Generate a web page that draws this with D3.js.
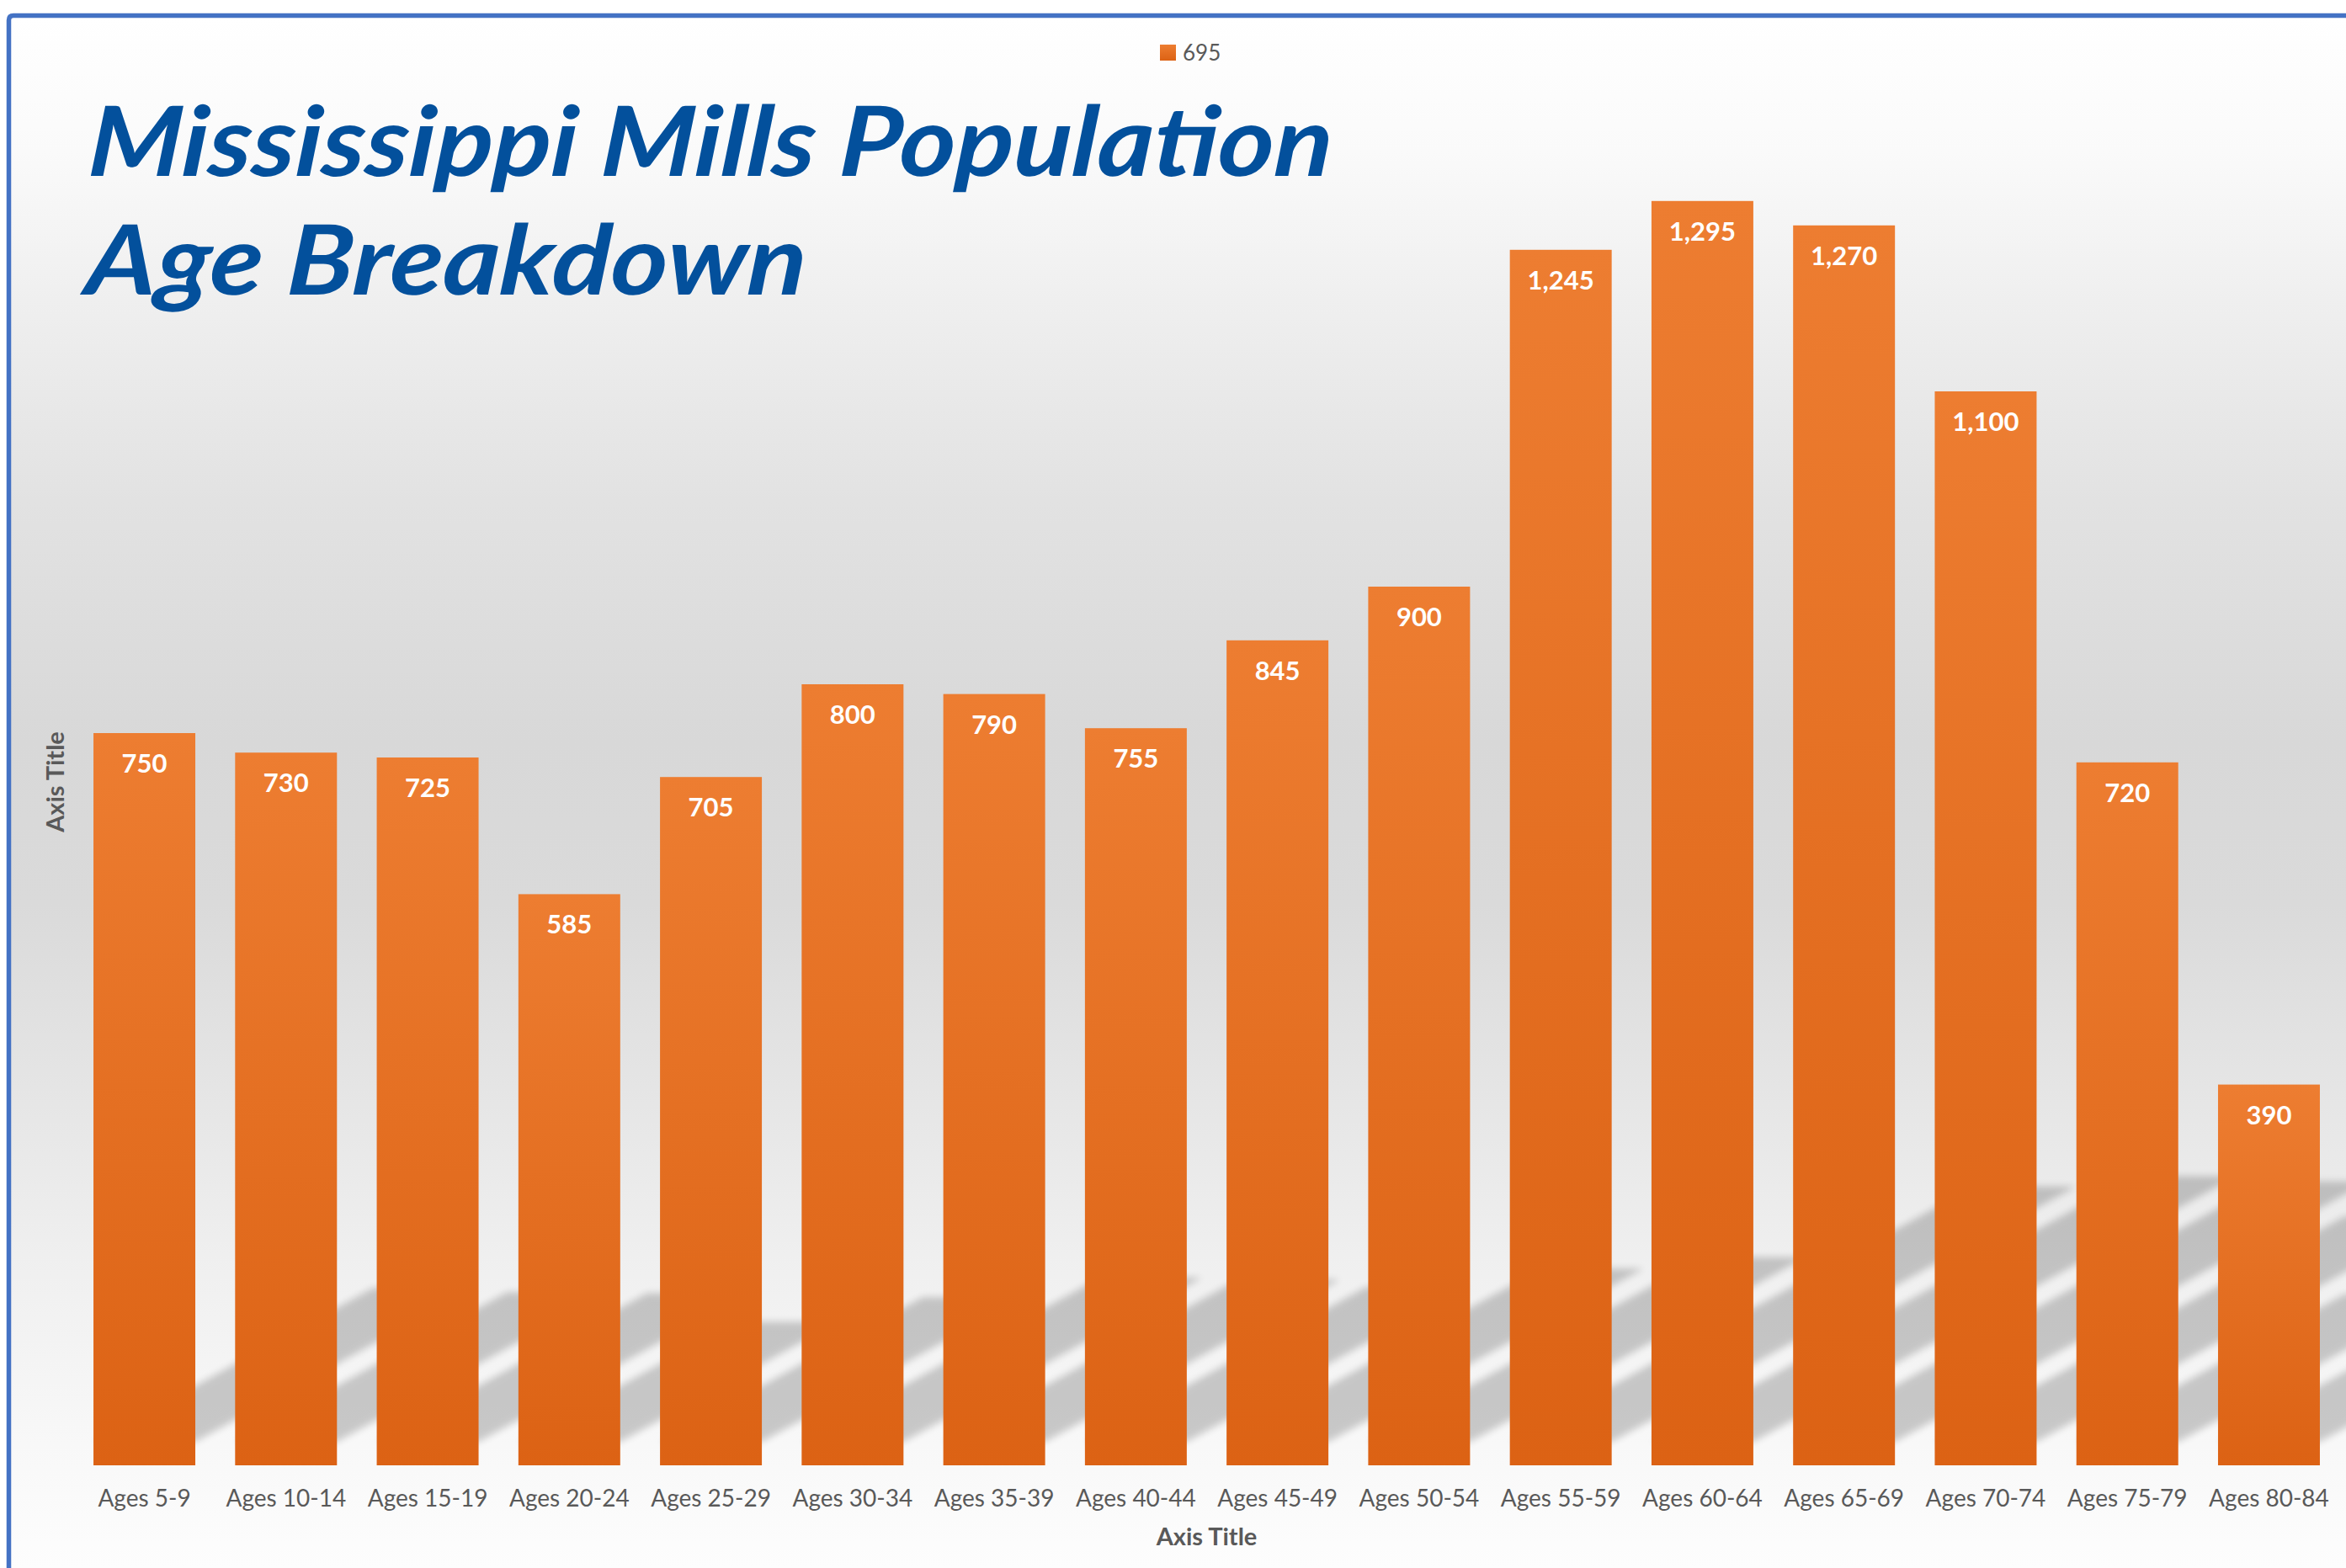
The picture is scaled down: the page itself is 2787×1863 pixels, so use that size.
<!DOCTYPE html>
<html>
<head>
<meta charset="utf-8">
<script src="https://cdn.jsdelivr.net/npm/d3@7"></script>
<style>
  html, body { margin: 0; padding: 0; background: #ffffff; }
  svg { display: block; }
</style>
</head>
<body>
<svg id="chart"></svg>
<script>
// ---- data ----
const categories = [
  "Ages 5-9", "Ages 10-14", "Ages 15-19", "Ages 20-24", "Ages 25-29", "Ages 30-34",
  "Ages 35-39", "Ages 40-44", "Ages 45-49", "Ages 50-54", "Ages 55-59", "Ages 60-64",
  "Ages 65-69", "Ages 70-74", "Ages 75-79", "Ages 80-84"
];
const population = [750, 730, 725, 585, 705, 800, 790, 755, 845, 900, 1245, 1295, 1270, 1100, 720, 390];
const seriesName = "695";
const titleLines = ["Mississippi Mills Population", "Age Breakdown"];
const xAxisTitle = "Axis Title";
const yAxisTitle = "Axis Title";

// ---- layout ----
const W = 2787, H = 1863;
const plot = { left: 87.4, right: 2779.6, top: 117, bottom: 1741 };
const textGrey = "#595959";
const font = "Lato, 'Open Sans', 'DejaVu Sans', sans-serif";

const svg = d3.select("#chart").attr("width", W).attr("height", H);
const defs = svg.append("defs");

// chart-area background: light at the edges, grey through the middle
const bgStops = [
  [19, "#ffffff"], [180, "#fafafa"], [357, "#efefef"], [596, "#e2e2e2"],
  [880, "#d8d8d8"], [1073, "#dadada"], [1311, "#e6e6e6"], [1490, "#efefef"],
  [1716, "#f8f8f8"], [1863, "#fdfdfd"]
];
const bgGrad = defs.append("linearGradient")
  .attr("id", "bgGrad").attr("gradientUnits", "userSpaceOnUse")
  .attr("x1", 0).attr("x2", 0).attr("y1", 19).attr("y2", H);
bgGrad.selectAll("stop").data(bgStops).join("stop")
  .attr("offset", d => (d[0] - 19) / (H - 19))
  .attr("stop-color", d => d[1]);

// bar fill: lighter orange at the top, deeper at the base
const barGrad = defs.append("linearGradient")
  .attr("id", "barGrad").attr("x1", 0).attr("x2", 0).attr("y1", 0).attr("y2", 1);
barGrad.append("stop").attr("offset", 0).attr("stop-color", "#ed7d31");
barGrad.append("stop").attr("offset", 1).attr("stop-color", "#dc6214");

const blur = defs.append("filter").attr("id", "shadowBlur")
  .attr("x", "-10%").attr("y", "-10%").attr("width", "120%").attr("height", "120%");
blur.append("feGaussianBlur").attr("stdDeviation", 4);

svg.append("rect").attr("width", W).attr("height", H).attr("fill", "#ffffff");
svg.append("rect").attr("x", 10).attr("y", 19).attr("width", W).attr("height", H)
  .attr("fill", "url(#bgGrad)");

// ---- scales ----
const x = d3.scaleBand().domain(categories)
  .range([plot.left, plot.right]).paddingInner(0.281).paddingOuter(0.1405);
const y = d3.scaleLinear().domain([0, 1400]).range([plot.bottom, plot.top]);

// ---- perspective shadows cast up and to the right ----
const shadowScale = 0.21, shadowLift = 28, shadowSlope = 0.55;
svg.append("g").attr("filter", "url(#shadowBlur)").attr("opacity", 0.19)
  .selectAll("path").data(population).join("path")
  .attr("fill", "#000")
  .attr("d", (d, i) => {
    const x0 = x(categories[i]), x1 = x0 + x.bandwidth();
    const yb = y(0) - shadowLift;
    const h = (y(0) - y(d)) * shadowScale;
    const dx = h / shadowSlope;
    return `M${x0},${yb}L${x1},${yb}L${x1 + dx},${yb - h}L${x0 + dx},${yb - h}Z`;
  });

// ---- bars ----
svg.append("g").selectAll("rect").data(population).join("rect")
  .attr("x", (d, i) => x(categories[i]))
  .attr("y", d => y(d))
  .attr("width", x.bandwidth())
  .attr("height", d => y(0) - y(d))
  .attr("fill", "url(#barGrad)");

// ---- value labels inside the bar tops ----
const fmt = d3.format(",");
svg.append("g").selectAll("text").data(population).join("text")
  .attr("x", (d, i) => x(categories[i]) + x.bandwidth() / 2)
  .attr("y", d => y(d) + 47)
  .attr("text-anchor", "middle")
  .attr("font-family", font).attr("font-weight", 700).attr("font-size", 31)
  .attr("fill", "#ffffff")
  .text(d => fmt(d));

// ---- category axis ----
const xAxis = svg.append("g").attr("transform", `translate(0,${plot.bottom})`)
  .call(d3.axisBottom(x).tickSize(0));
xAxis.select(".domain").remove();
xAxis.selectAll("text")
  .attr("y", 49).attr("dy", 0)
  .attr("font-family", font).attr("font-size", 28).attr("fill", textGrey);

// ---- axis titles ----
svg.append("text")
  .attr("x", (plot.left + plot.right) / 2).attr("y", 1836)
  .attr("text-anchor", "middle")
  .attr("font-family", font).attr("font-weight", 700).attr("font-size", 29)
  .attr("fill", textGrey).text(xAxisTitle);
svg.append("text")
  .attr("transform", `translate(76,${(plot.top + plot.bottom) / 2}) rotate(-90)`)
  .attr("text-anchor", "middle")
  .attr("font-family", font).attr("font-weight", 700).attr("font-size", 29)
  .attr("fill", textGrey).text(yAxisTitle);

// ---- legend ----
const legend = svg.append("g").attr("transform", "translate(1378,53)");
legend.append("rect").attr("width", 19).attr("height", 19).attr("fill", "url(#barGrad)");
legend.append("text").attr("x", 27).attr("y", 19)
  .attr("font-family", font).attr("font-size", 26).attr("fill", textGrey)
  .text(seriesName);

// ---- title ----
const titleSpec = [
  { x: 103, y: 209, len: 1478 },
  { x: 100, y: 350, len: 856 }
];
svg.append("g").selectAll("text").data(titleLines).join("text")
  .attr("transform", (d, i) => `translate(${titleSpec[i].x},${titleSpec[i].y}) skewX(-4)`)
  .attr("textLength", (d, i) => titleSpec[i].len)
  .attr("lengthAdjust", "spacingAndGlyphs")
  .attr("font-family", font).attr("font-weight", 700).attr("font-style", "italic")
  .attr("font-size", 115).attr("fill", "#03509c")
  .text(d => d);

// ---- chart frame (top and left edges in view) ----
svg.append("path")
  .attr("d", `M10.5,${H + 10}V24Q10.5,18.5 16,18.5H${W + 10}`)
  .attr("fill", "none").attr("stroke", "#4472c4").attr("stroke-width", 5.5);
</script>
</body>
</html>
